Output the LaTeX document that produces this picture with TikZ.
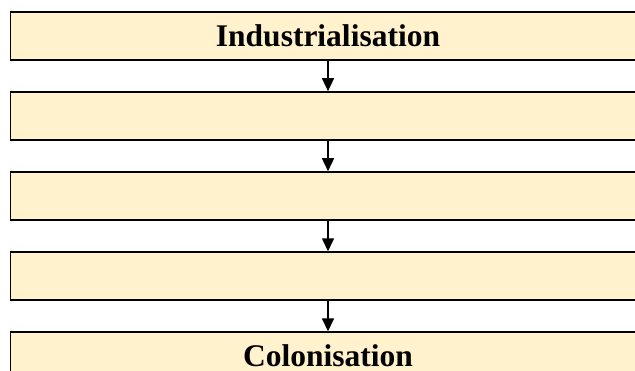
\documentclass[tikz,border=0pt]{standalone}
\usepackage{fontspec}
\setmainfont{Liberation Serif}
\usetikzlibrary{positioning,arrows.meta}
\definecolor{boxfill}{HTML}{FFF2CC}
\tikzset{
  stage/.style={draw=black, line width=1.8pt, fill=boxfill, minimum width=635pt,
    minimum height=48pt, inner sep=0pt, font=\fontsize{31.5}{36}\selectfont\bfseries},
  flow/.style={-{Triangle[length=13pt,width=12pt]}, line width=1.6pt}
}
\begin{document}
\begin{tikzpicture}[x=1pt,y=-1pt,node distance=30.25pt]
        \useasboundingbox (0,0) rectangle (635,370);
        \clip (0,0) rectangle (635,370);
        \node[stage] (s1) at (328,36) {Industrialisation};
        \node[stage, below=of s1] (s2) {};
        \node[stage, below=of s2] (s3) {};
        \node[stage, below=of s3] (s4) {};
        \node[stage, below=of s4] (s5) {Colonisation};
        \foreach \a/\b in {s1/s2,s2/s3,s3/s4,s4/s5}{
            \draw[flow] (\a.south) -- (\b.north);
          }
      \end{tikzpicture}
\end{document}
